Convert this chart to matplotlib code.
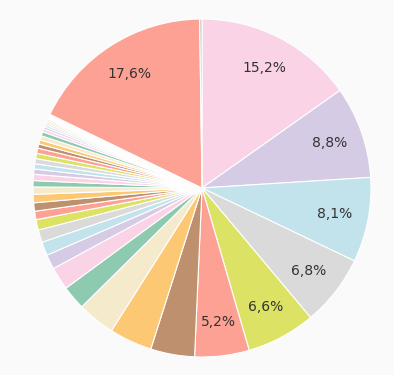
import matplotlib
matplotlib.use("Agg")
import matplotlib.pyplot as plt

BG = "#fafafa"
INK = "#333333"
PALETTE = ["#fad4e6", "#d5cbe5", "#c2e2ec", "#dadada", "#dce263",
           "#fca193", "#be906e", "#fdc873", "#f6eacc", "#8ecab0"]
C_LAST = "#c4c4c4"

# shares in percent, clockwise from 12 o'clock
head = [15.2, 8.8, 8.1, 6.8, 6.6, 5.2, 4.2, 4.1, 3.6, 2.3]
second = [2.2, 1.4, 1.3, 1.2, 1.0, 0.8, 0.8, 0.8, 0.7, 0.6]
third = [0.6, 0.5, 0.5, 0.5, 0.5, 0.5, 0.4, 0.4, 0.4, 0.4]
fourth = [0.28, 0.22, 0.2, 0.18, 0.15, 0.14, 0.12, 0.1, 0.09, 0.08]
tail = [0.06, 0.05, 0.04, 0.04, 0.03]
big = [17.6]
last = [0.22]

values = head + second + third + fourth + tail + big + last
colors = [PALETTE[i % 10] for i in range(len(values) - 1)] + [C_LAST]

def fmt(p):
    return f"{p:.1f}%".replace(".", ",") if p >= 5 else ""

fig = plt.figure(figsize=(3.94, 3.75), dpi=100, facecolor=BG)
W, H = 394, 375
cx, cy, r = 202, 188, 169
ax = fig.add_axes([(cx - r) / W, (H - cy - r) / H, 2 * r / W, 2 * r / H])
ax.set_facecolor(BG)
ax.pie(values, colors=colors, startangle=90, counterclock=False,
       autopct=fmt, pctdistance=0.8,
       wedgeprops=dict(edgecolor="white", linewidth=0.8),
       textprops=dict(color=INK, fontsize=10))
ax.set_xlim(-1, 1); ax.set_ylim(-1, 1)
ax.axis("off")
fig.savefig("out.png", dpi=100, facecolor=BG)
